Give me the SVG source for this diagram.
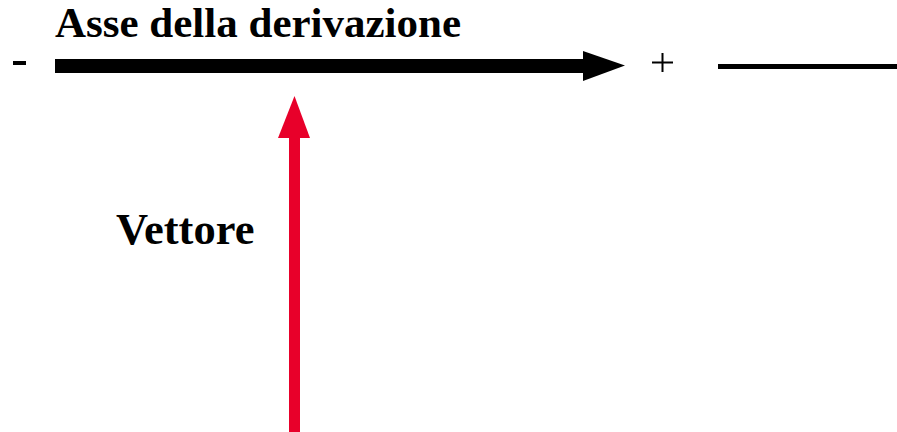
<svg xmlns="http://www.w3.org/2000/svg" width="897" height="432" viewBox="0 0 897 432">
<style>
.lbl{font-family:"Liberation Serif","Times New Roman",serif;font-weight:bold;fill:#000}
</style>
<rect width="897" height="432" fill="#fff"/>
<g id="axis-label"><text class="lbl" x="55" y="37" font-size="43">Asse della derivazione</text></g>
<g id="minus"><rect x="13" y="61" width="13" height="4" fill="#000"/></g>
<g id="plus"><path d="M652 62.5H673M662.5 53V72" stroke="#000" stroke-width="2" fill="none"/></g>
<g id="vector-label"><text class="lbl" x="116" y="244" font-size="44.5">Vettore</text></g>
<g id="connectors">
  <g id="axis-arrow">
    <rect x="55" y="59" width="530" height="14" fill="#000"/>
    <polygon points="583,51 625,65.5 583,81" fill="#000"/>
  </g>
  <g id="baseline-line"><rect x="718" y="64" width="179" height="5" fill="#000"/></g>
  <g id="vector-arrow">
    <rect x="289" y="136" width="11" height="296" fill="#e8002a"/>
    <polygon points="294.5,96 278,138 310,138" fill="#e8002a"/>
  </g>
</g>
</svg>
